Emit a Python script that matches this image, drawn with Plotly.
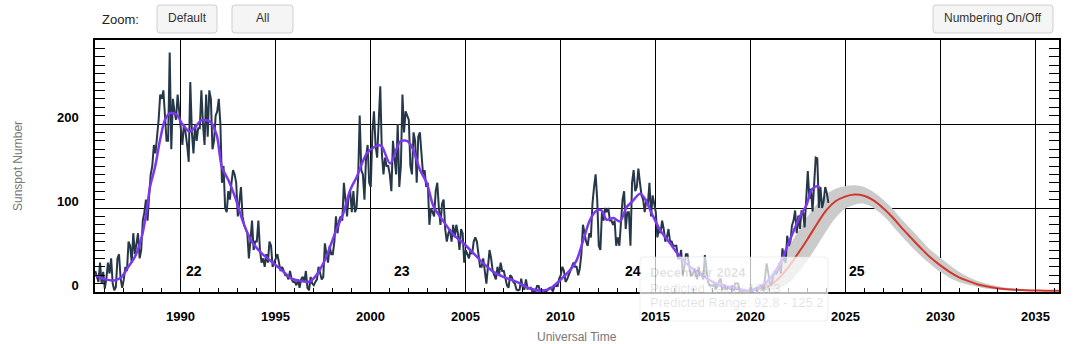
import plotly.graph_objects as go

# ---------------- data ----------------
# Monthly mean sunspot number, starting July 1985
ssn_start_year = 1985
ssn_start_month = 7
monthly_ssn = [
    25, 18, 12, 35, 10, 24,                                   # 1985 Jul-Dec
    4, 16, 35, 22, 40, 10, 2, 6, 40, 45, 16, 5,               # 1986
    15, 30, 25, 60, 55, 35, 70, 45, 60, 70, 40, 50,           # 1987
    85, 95, 110, 85, 115, 140, 150, 175, 165, 185, 205, 235,  # 1988
    230, 240, 215, 180, 180, 285, 170, 230, 215, 205, 235, 215,  # 1989
    200, 175, 200, 190, 175, 155, 250, 190, 165, 200, 180, 195,  # 1990
    195, 240, 200, 175, 235, 185, 240, 230, 170, 180, 210, 215,  # 1991
    230, 200, 130, 150, 100, 95, 120, 110, 130, 145, 140, 130,   # 1992
    90, 110, 125, 90, 80, 75, 70, 40, 65, 85, 50, 60,         # 1993
    60, 85, 50, 35, 40, 30, 45, 35, 60, 55, 30, 35,           # 1994
    40, 45, 35, 25, 30, 25, 20, 20, 15, 25, 15, 12,           # 1995
    12, 8, 15, 5, 15, 18, 12, 25, 5, 2, 18, 10,               # 1996
    8, 12, 15, 30, 22, 15, 18, 58, 45, 35, 55, 45,            # 1997
    45, 60, 90, 70, 85, 90, 85, 130, 110, 90, 115, 120,       # 1998
    95, 120, 95, 100, 135, 210, 145, 140, 110, 160, 175, 130,  # 1999
    125, 190, 215, 175, 160, 195, 245, 165, 140, 160, 150, 150,  # 2000
    140, 120, 180, 160, 140, 200, 125, 150, 235, 190, 215, 210,  # 2001
    205, 150, 140, 190, 180, 130, 185, 190, 165, 140, 145, 125,  # 2002
    130, 80, 100, 95, 90, 120, 130, 100, 80, 105, 110, 75,    # 2003
    60, 70, 75, 60, 80, 65, 80, 70, 50, 75, 70, 35,           # 2004
    50, 45, 40, 50, 45, 60, 65, 60, 45, 30, 30, 40,           # 2005
    25, 10, 30, 50, 40, 25, 20, 15, 30, 20, 35, 25,           # 2006
    25, 15, 8, 5, 20, 18, 12, 10, 3, 2, 3, 16,                # 2007
    5, 3, 15, 4, 5, 5, 1, 0.5, 1, 7, 7, 1,                    # 2008
    1.5, 2, 1, 1, 3, 5, 5, 0.5, 7, 7, 7, 16,                  # 2009
    20, 30, 25, 12, 15, 20, 25, 30, 35, 30, 30, 20,           # 2010
    28, 45, 80, 70, 60, 55, 70, 65, 105, 125, 140, 110,       # 2011
    55, 50, 95, 85, 100, 95, 100, 85, 85, 80, 85, 55,         # 2012
    65, 55, 80, 110, 120, 75, 95, 95, 55, 130, 145, 120,      # 2013
    125, 147, 130, 115, 110, 95, 110, 105, 130, 90, 115, 105,  # 2014
    95, 65, 75, 70, 85, 75, 60, 65, 75, 60, 60, 55,           # 2015
    55, 55, 40, 40, 50, 20, 30, 45, 45, 30, 20, 20,           # 2016
    25, 25, 15, 30, 20, 20, 15, 44, 28, 12, 8, 8,             # 2017
    7, 11, 3, 9, 13, 16, 2, 9, 4, 4, 6, 3,                    # 2018
    8, 1, 10, 10, 10, 1, 1, 0.5, 1, 0.5, 0.5, 1.5,            # 2019
    6, 0.5, 2, 5, 0.5, 6, 7, 8, 1, 15, 34, 23,                # 2020
    10, 8, 18, 25, 21, 25, 35, 22, 52, 38, 35, 67,            # 2021
    55, 60, 79, 85, 97, 70, 91, 75, 96, 95, 77, 113,          # 2022
    144, 111, 123, 96, 137, 160, 159, 100, 125, 100, 108, 125,  # 2023
    118, 106,                                                 # 2024 Jan-Feb
]

# Smoothed sunspot number (time in decimal years, value)
smoothed_time = [
    1985.53, 1986.06, 1986.58, 1986.93, 1987.28, 1987.63, 1987.99, 1988.25, 1988.42,
    1988.69, 1988.95, 1989.21, 1989.48, 1989.83, 1990.09, 1990.5, 1990.79, 1991.11,
    1991.58, 1991.93, 1992.2, 1992.55, 1992.9, 1993.34, 1993.78, 1994.3, 1994.83,
    1995.35, 1995.88, 1996.4, 1996.76, 1997.11, 1997.63, 1997.9, 1998.25, 1998.6,
    1998.95, 1999.3, 1999.83, 2000.35, 2000.6, 2001.06, 2001.58, 2001.94, 2002.2,
    2002.64, 2003.0, 2003.34, 2003.87, 2004.4, 2004.92, 2005.45, 2005.97, 2006.5,
    2007.02, 2007.72, 2008.43, 2008.95, 2009.48, 2010.0, 2010.53, 2010.88, 2011.23,
    2011.58, 2011.93, 2012.19, 2012.46, 2012.81, 2013.16, 2013.5, 2013.77, 2014.21,
    2014.47, 2014.82, 2015.26, 2015.79, 2016.32, 2016.84, 2017.37, 2017.89, 2018.42,
    2018.95, 2019.47, 2020.0, 2020.53, 2021.05, 2021.58, 2022.1, 2022.63, 2022.98,
    2023.2, 2023.4, 2023.55, 2023.68,
]
smoothed_ssn = [
    20, 15, 14, 18, 30, 42, 66, 97, 125,
    149, 181, 205, 213, 211, 201, 191, 196, 204,
    203, 187, 149, 133, 113, 82, 60, 46, 36,
    26, 16, 13, 12, 18, 38, 54, 75, 94,
    121, 137, 165, 174, 174, 153, 179, 180, 173,
    145, 129, 102, 84, 68, 58, 46, 34, 24,
    18, 12, 4.2, 1.6, 4, 14, 26, 38, 62,
    86, 97, 97, 86, 88, 84, 101, 107, 117,
    111, 94, 74, 58, 42, 30, 22, 14, 8.3,
    5.6, 3.2, 1.6, 6.3, 16, 34, 62, 90, 104,
    120, 125, 126, 124,
]

# Predicted cycle 25 (value and range)
pred_time = [
    2019.95, 2020.5, 2021.0, 2021.5, 2022.0, 2022.5, 2023.0, 2023.5, 2024.0, 2024.5,
    2025.0, 2025.5, 2026.0, 2026.5, 2027.0, 2027.5, 2028.0, 2028.5, 2029.0, 2029.5,
    2030.0, 2030.5, 2031.0, 2031.5, 2032.0, 2032.5, 2033.0, 2033.5, 2034.0, 2034.5,
    2035.0, 2035.5, 2036.0, 2036.5,
]
pred_value = [
    2, 4, 7, 16, 29, 45, 62, 80, 97, 108,
    113.5, 116, 114.5, 109, 100, 89, 76, 64, 52, 41,
    32, 24, 17.5, 13, 9, 6.5, 4.5, 3.3, 2.6, 2.1,
    1.8, 1.6, 1.5, 1.4,
]
pred_high = [
    2, 8, 17, 33, 52, 71, 89, 104, 116, 123,
    126, 127, 125, 119, 110, 99, 86, 74, 62, 50,
    41, 32, 24, 18, 13, 9.5, 7, 5, 3.8, 3,
    2.5, 2.1, 1.8, 1.6,
]
pred_low = [
    2, 1.5, 2, 4, 10, 22, 37, 54, 72, 88,
    99, 104, 105, 100, 91, 79, 66, 54, 43, 33,
    24, 17, 12, 8.5, 6, 4, 3, 2.3, 1.9, 1.6,
    1.4, 1.3, 1.2, 1.2,
]

cycle_labels = ["22", "23", "24", "25"]
cycle_label_years = [1990.2, 2001.15, 2013.33, 2025.08]

x_tick_years = [1990, 1995, 2000, 2005, 2010, 2015, 2020, 2025, 2030, 2035]
y_tick_values = [0, 100, 200]

tooltip_lines = ["December 2024", "Predicted Value: 109.3", "Predicted Range: 92.8 - 125.2"]

# ---------------- figure ----------------
month_time = [ssn_start_year + (ssn_start_month - 1 + i + 0.5) / 12.0 for i in range(len(monthly_ssn))]

FONT = "Liberation Sans, Arial, sans-serif"
W, H = 1087, 344
L, R, T, B = 95, 28, 40, 52
PW, PH = W - L - R, H - T - B


def pxx(x):
    return (x - L) / PW


def pxy(y):
    return (H - B - y) / PH


fig = go.Figure()

# prediction band
fig.add_trace(go.Scatter(x=pred_time, y=pred_low, mode="lines",
                         line=dict(width=0, color="#c9c9c9", shape="spline"),
                         hoverinfo="skip", showlegend=False))
fig.add_trace(go.Scatter(x=pred_time, y=pred_high, mode="lines", fill="tonexty",
                         fillcolor="#cbcbcb",
                         line=dict(width=0, color="#c9c9c9", shape="spline"),
                         hoverinfo="skip", showlegend=False))
# predicted value
fig.add_trace(go.Scatter(x=pred_time, y=pred_value, mode="lines",
                         line=dict(width=2, color="#d3372b", shape="spline"),
                         showlegend=False))
# monthly values
fig.add_trace(go.Scatter(x=month_time, y=monthly_ssn, mode="lines",
                         line=dict(width=2, color="#27374a"),
                         showlegend=False))
# smoothed
fig.add_trace(go.Scatter(x=smoothed_time, y=smoothed_ssn, mode="lines",
                         line=dict(width=2.5, color="#7b38ee", shape="spline", smoothing=0.8),
                         showlegend=False))

x_per_px = 5.0 / 95.0
x_range = [1990 - (180 - L) * x_per_px, 1990 + (W - R - 180) * x_per_px]

fig.update_xaxes(
    range=x_range,
    tickvals=x_tick_years,
    showticklabels=False,
    showgrid=True, gridcolor="black", gridwidth=1,
    zeroline=False,
    showline=True, linecolor="black", linewidth=1.5, mirror=True,
    ticks="inside", ticklen=4, tickcolor="black",
    minor=dict(dtick=1, tick0=1990, ticks="inside", ticklen=4, tickcolor="black", showgrid=False),
)
fig.update_yaxes(
    range=[0, 300],
    tickvals=y_tick_values,
    ticktext=[f"<b>{v}</b>" for v in y_tick_values],
    showgrid=True, gridcolor="black", gridwidth=1,
    zeroline=False,
    showline=True, linecolor="black", linewidth=1.5, mirror="allticks",
    ticks="inside", ticklen=10, tickcolor="black",
    minor=dict(dtick=10, tick0=0, ticks="inside", ticklen=10, tickcolor="black", showgrid=False),
    tickfont=dict(family=FONT, size=13, color="black"),
    ticklabelshift=-7,
    ticklabelstandoff=12,
)

annotations = []
shapes = []


def rounded_rect(x0, y0, x1, y1, r=3):
    X = pxx
    Y = pxy
    p = (f"M {X(x0 + r)},{Y(y0)} L {X(x1 - r)},{Y(y0)} Q {X(x1)},{Y(y0)} {X(x1)},{Y(y0 + r)} "
         f"L {X(x1)},{Y(y1 - r)} Q {X(x1)},{Y(y1)} {X(x1 - r)},{Y(y1)} "
         f"L {X(x0 + r)},{Y(y1)} Q {X(x0)},{Y(y1)} {X(x0)},{Y(y1 - r)} "
         f"L {X(x0)},{Y(y0 + r)} Q {X(x0)},{Y(y0)} {X(x0 + r)},{Y(y0)} Z")
    return p


# faded tooltip (drawn over the traces)
shapes.append(dict(type="path", path=rounded_rect(640, 257, 828, 321, r=4), xref="paper", yref="paper",
                   fillcolor="rgba(255,255,255,0.72)", line=dict(color="rgba(220,220,220,0.5)", width=1),
                   layer="above"))
for i, (txt, ty) in enumerate(zip(tooltip_lines, [272, 288, 302])):
    annotations.append(dict(text=(f"<b>{txt}</b>" if i == 0 else txt), xref="paper", yref="paper",
                            x=pxx(648), y=pxy(ty), showarrow=False, xanchor="left", yanchor="middle",
                            font=dict(family=FONT, size=13, color="rgba(0,0,0,0.13)")))

# x tick labels (drawn on top of the tooltip, as in the reference)
for v in x_tick_years:
    annotations.append(dict(text=f"<b>{v}</b>", x=v, xref="x", y=pxy(316), yref="paper",
                            showarrow=False, xanchor="center", yanchor="middle",
                            font=dict(family=FONT, size=13, color="black")))

# axis titles
annotations.append(dict(text="Sunspot Number", xref="paper", yref="paper", x=pxx(18), y=0.5,
                        textangle=-90, showarrow=False, xanchor="center", yanchor="middle",
                        font=dict(family=FONT, size=12, color="#777777")))
annotations.append(dict(text="Universal Time", xref="paper", yref="paper", x=0.5, y=pxy(337),
                        showarrow=False, xanchor="center", yanchor="middle",
                        font=dict(family=FONT, size=12, color="#777777")))

# cycle labels
for lab, yr in zip(cycle_labels, cycle_label_years):
    annotations.append(dict(text=f"<b>{lab}</b>", x=yr, y=25, xref="x", yref="y", showarrow=False,
                            xanchor="left", yanchor="middle",
                            font=dict(family=FONT, size=14, color="black")))

# buttons
buttons = [("Default", 157, 217), ("All", 232, 293), ("Numbering On/Off", 933, 1053)]
for label, bx0, bx1 in buttons:
    shapes.append(dict(type="path", path=rounded_rect(bx0, 5, bx1, 33), xref="paper", yref="paper",
                       fillcolor="#f5f5f5", line=dict(color="#cfcfcf", width=1), layer="above"))
    annotations.append(dict(text=label, xref="paper", yref="paper", x=pxx((bx0 + bx1) / 2), y=pxy(18),
                            showarrow=False, xanchor="center", yanchor="middle",
                            font=dict(family=FONT, size=12, color="#333333")))
annotations.append(dict(text="Zoom:", xref="paper", yref="paper", x=pxx(100), y=pxy(19),
                        showarrow=False, xanchor="left", yanchor="middle",
                        font=dict(family=FONT, size=13, color="#222222")))

fig.update_layout(
    width=W, height=H,
    margin=dict(l=L, r=R, t=T, b=B, pad=0),
    paper_bgcolor="white", plot_bgcolor="white",
    showlegend=False,
    annotations=annotations,
    shapes=shapes,
    font=dict(family=FONT),
)

fig.write_html("out.html",
               config={"displayModeBar": False},
               post_script="document.body.style.margin='0';document.body.style.padding='0';")
